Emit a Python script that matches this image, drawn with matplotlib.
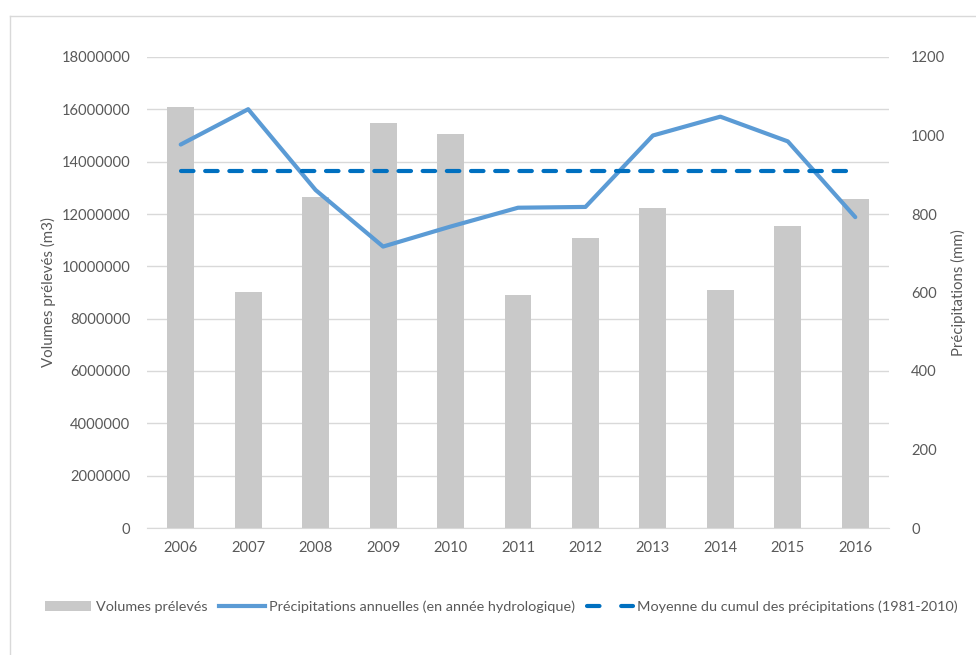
import matplotlib.pyplot as plt
from matplotlib.lines import Line2D
from matplotlib.patches import Patch

# données
annees = ['2006', '2007', '2008', '2009', '2010', '2011', '2012', '2013', '2014', '2015', '2016']
volumes = [16090000, 9020000, 12650000, 15480000, 15050000, 8900000, 11100000, 12230000, 9100000, 11550000, 12570000]
precip = [977, 1067, 861, 717, 768, 816, 818, 1000, 1048, 985, 792]
moyenne = 910

plt.rcParams['font.family'] = ['Lato', 'DejaVu Sans']
gris_txt = '#595959'

fig = plt.figure(figsize=(9.76, 6.55), dpi=100)
ax = fig.add_axes([147/976, 1 - 528/655, (889 - 147)/976, (528 - 57)/655])
ax2 = ax.twinx()

x = list(range(len(annees)))

# barres
ax.bar(x, volumes, width=0.4, color='#C9C9C9', zorder=2)
ax.set_ylim(0, 18000000)
ax.set_yticks(range(0, 18000001, 2000000))
ax.set_yticklabels([str(v) for v in range(0, 18000001, 2000000)])
ax.set_xlim(-0.5, len(annees) - 0.5)
ax.set_xticks(x)
ax.set_xticklabels(annees)
ax.grid(axis='y', color='#D9D9D9', linewidth=1, zorder=0)
ax.set_axisbelow(True)
ax.set_ylabel('Volumes prélevés (m3)', color=gris_txt, fontsize=10.8, labelpad=4)

# lignes
ax2.plot(x, precip, color='#5B9BD5', linewidth=3, solid_capstyle='round', zorder=3)
ax2.plot(x, [moyenne] * len(x), color='#0070C0', linewidth=3, linestyle=(0, (3, 2.8)),
         dash_capstyle='round', zorder=3)
ax2.set_ylim(0, 1200)
ax2.set_yticks(range(0, 1201, 200))
ax2.set_ylabel('Précipitations (mm)', color=gris_txt, fontsize=10.8, labelpad=4)

for a in (ax, ax2):
    for s in a.spines.values():
        s.set_visible(False)
    a.tick_params(length=0, colors=gris_txt, labelsize=10.6)
ax.spines['bottom'].set_visible(True)
ax.spines['bottom'].set_color('#D9D9D9')
ax.tick_params(axis='y', pad=12)
ax2.tick_params(axis='y', pad=16)
ax.tick_params(axis='x', pad=9)

# légende
handles = [
    Patch(facecolor='#C9C9C9', edgecolor='none'),
    Line2D([0], [0], color='#5B9BD5', linewidth=3),
    Line2D([0], [0], color='#0070C0', linewidth=3, linestyle=(0, (3.0, 5.2)), dash_capstyle='round'),
]
labels = ['Volumes prélevés', 'Précipitations annuelles (en année hydrologique)',
          'Moyenne du cumul des précipitations (1981-2010)']
leg = fig.legend(handles, labels, loc='center', bbox_to_anchor=(0.514, 1 - 607/655), ncol=3,
                 frameon=False, fontsize=10.4, handlelength=3.2, handletextpad=0.3,
                 columnspacing=0.8, labelcolor=gris_txt)

# cadre du graphique
fig.add_artist(Line2D([10/976, 10/976], [0, 1 - 16/655], transform=fig.transFigure,
                      color='#D9D9D9', linewidth=1))
fig.add_artist(Line2D([10/976, 1], [1 - 16/655, 1 - 16/655], transform=fig.transFigure,
                      color='#D9D9D9', linewidth=1))

fig.savefig('out.png', dpi=100)
